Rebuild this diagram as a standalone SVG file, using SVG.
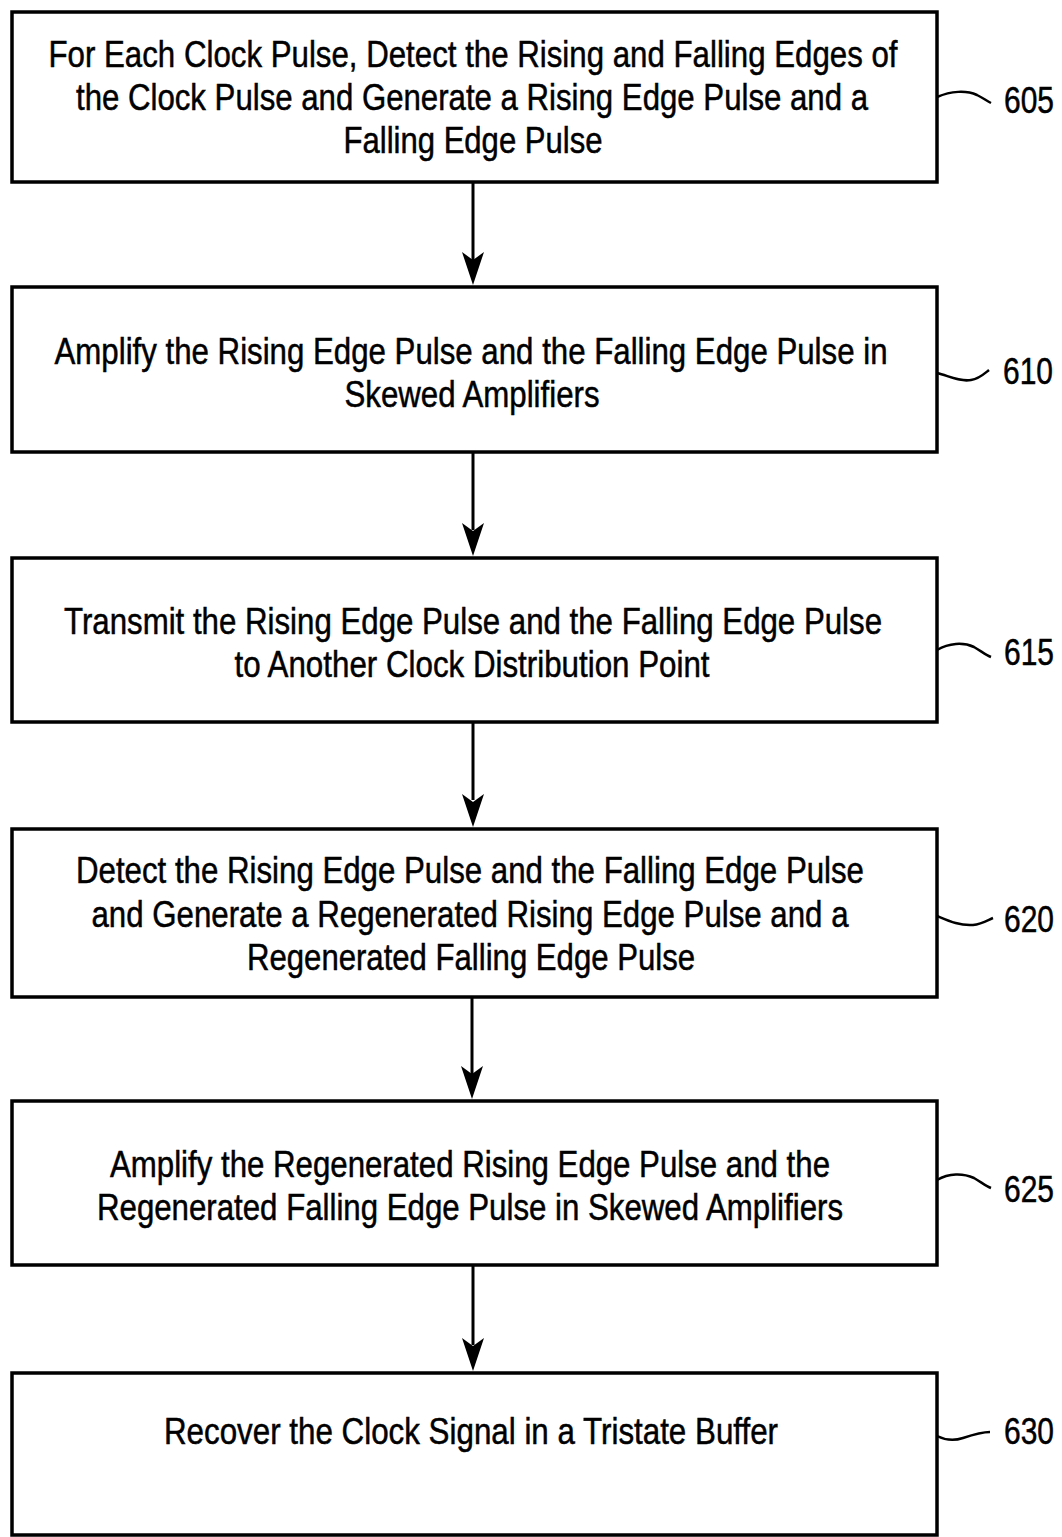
<svg xmlns="http://www.w3.org/2000/svg" width="1062" height="1537" viewBox="0 0 1062 1537">
<style>
.box{fill:#fff;stroke:#000;stroke-width:3.5}
.t{font-family:"Liberation Sans",Arial,sans-serif;font-size:37px;fill:#000;stroke:#000;stroke-width:0.5;text-anchor:middle}
.lbl{font-family:"Liberation Sans",Arial,sans-serif;font-size:36px;fill:#000;stroke:#000;stroke-width:0.5}
.lead{fill:none;stroke:#000;stroke-width:2.5}
.line{stroke:#000;stroke-width:3}
.head{fill:#000}
</style>
<rect width="1062" height="1537" fill="#fff"/>
<g id="connectors">
<line class="line" x1="473" y1="182" x2="473" y2="260"/>
<path class="head" d="M462,252 L473,260 L484,252 L473,285 Z"/>
<line class="line" x1="473" y1="452" x2="473" y2="530"/>
<path class="head" d="M462,523 L473,531 L484,523 L473,556 Z"/>
<line class="line" x1="473" y1="722" x2="473" y2="800"/>
<path class="head" d="M462,794 L473,802 L484,794 L473,827 Z"/>
<line class="line" x1="472" y1="997" x2="472" y2="1075"/>
<path class="head" d="M461,1066 L472,1074 L483,1066 L472,1099 Z"/>
<line class="line" x1="473" y1="1265" x2="473" y2="1345"/>
<path class="head" d="M462,1338 L473,1346 L484,1338 L473,1371 Z"/>
</g>
<g id="n605">
<rect class="box" x="12" y="12" width="925" height="170"/>
<text class="t" x="473" y="67" textLength="849" lengthAdjust="spacingAndGlyphs">For Each Clock Pulse, Detect the Rising and Falling Edges of</text>
<text class="t" x="472" y="110" textLength="792" lengthAdjust="spacingAndGlyphs">the Clock Pulse and Generate a Rising Edge Pulse and a</text>
<text class="t" x="473" y="153" textLength="259" lengthAdjust="spacingAndGlyphs">Falling Edge Pulse</text>
<path class="lead" d="M937,97 C951,91 966,90 977,95 C983,98 987,101 991,103"/>
<text class="lbl" x="1004" y="113" textLength="50" lengthAdjust="spacingAndGlyphs">605</text>
</g>
<g id="n610">
<rect class="box" x="12" y="287" width="925" height="165"/>
<text class="t" x="471" y="364" textLength="833" lengthAdjust="spacingAndGlyphs">Amplify the Rising Edge Pulse and the Falling Edge Pulse in</text>
<text class="t" x="472" y="407" textLength="255" lengthAdjust="spacingAndGlyphs">Skewed Amplifiers</text>
<path class="lead" d="M937,373 C949,376 960,382 971,380 C979,379 984,374 989,370"/>
<text class="lbl" x="1003" y="384" textLength="50" lengthAdjust="spacingAndGlyphs">610</text>
</g>
<g id="n615">
<rect class="box" x="12" y="558" width="925" height="164"/>
<text class="t" x="473" y="634" textLength="818" lengthAdjust="spacingAndGlyphs">Transmit the Rising Edge Pulse and the Falling Edge Pulse</text>
<text class="t" x="472" y="677" textLength="475" lengthAdjust="spacingAndGlyphs">to Another Clock Distribution Point</text>
<path class="lead" d="M937,650 C949,643 963,642 974,647 C981,651 986,655 991,657"/>
<text class="lbl" x="1004" y="665" textLength="50" lengthAdjust="spacingAndGlyphs">615</text>
</g>
<g id="n620">
<rect class="box" x="12" y="829" width="925" height="168"/>
<text class="t" x="470" y="883" textLength="788" lengthAdjust="spacingAndGlyphs">Detect the Rising Edge Pulse and the Falling Edge Pulse</text>
<text class="t" x="470" y="927" textLength="757" lengthAdjust="spacingAndGlyphs">and Generate a Regenerated Rising Edge Pulse and a</text>
<text class="t" x="471" y="970" textLength="448" lengthAdjust="spacingAndGlyphs">Regenerated Falling Edge Pulse</text>
<path class="lead" d="M937,916 C949,921 960,926 973,925 C982,924 988,920 993,918"/>
<text class="lbl" x="1004" y="932" textLength="50" lengthAdjust="spacingAndGlyphs">620</text>
</g>
<g id="n625">
<rect class="box" x="12" y="1101" width="925" height="164"/>
<text class="t" x="470" y="1177" textLength="720" lengthAdjust="spacingAndGlyphs">Amplify the Regenerated Rising Edge Pulse and the</text>
<text class="t" x="470" y="1220" textLength="746" lengthAdjust="spacingAndGlyphs">Regenerated Falling Edge Pulse in Skewed Amplifiers</text>
<path class="lead" d="M937,1180 C949,1173 963,1173 974,1178 C981,1182 986,1186 991,1188"/>
<text class="lbl" x="1004" y="1202" textLength="50" lengthAdjust="spacingAndGlyphs">625</text>
</g>
<g id="n630">
<rect class="box" x="12" y="1373" width="925" height="162"/>
<text class="t" x="471" y="1444" textLength="614" lengthAdjust="spacingAndGlyphs">Recover the Clock Signal in a Tristate Buffer</text>
<path class="lead" d="M937,1436 C945,1440 954,1441 963,1438 C972,1435 982,1432 990,1432"/>
<text class="lbl" x="1004" y="1444" textLength="50" lengthAdjust="spacingAndGlyphs">630</text>
</g>
</svg>
